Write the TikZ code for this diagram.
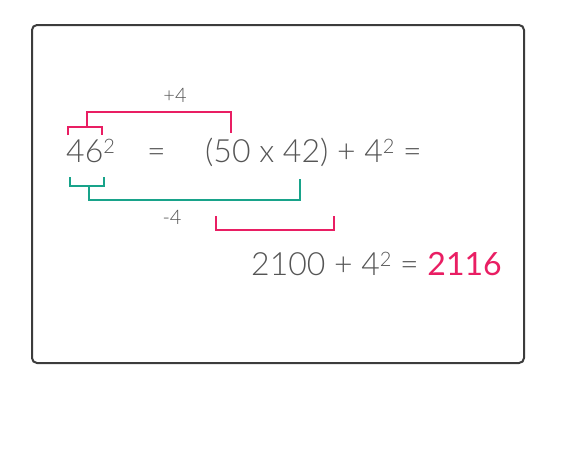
\documentclass[tikz,border=0pt]{standalone}
\usepackage{fontspec}
\setmainfont{Lato Light}
\newfontfamily\regfont{Lato}
\definecolor{pinkc}{HTML}{E91E63}
\definecolor{tealc}{HTML}{18A38A}
\definecolor{textc}{HTML}{555555}
\definecolor{framec}{HTML}{3C3C3C}
\newcommand{\sq}{{\fontsize{20}{20}\selectfont\raisebox{9pt}{2}}}
\begin{document}
\begin{tikzpicture}[x=1pt,y=-1pt,
  txt/.style={inner sep=0pt,anchor=base west,text=textc,font=\fontsize{32}{32}\selectfont},
  small/.style={inner sep=0pt,text=textc,font=\fontsize{20}{20}\selectfont},
  pinkline/.style={draw=pinkc,line width=2pt},
  tealline/.style={draw=tealc,line width=2pt}]
\useasboundingbox (0,0) rectangle (585,469);
\draw[framec,line width=2pt,rounded corners=5pt] (32,25) rectangle (524,363);
% texts
\node[txt] (n46) at (66,162) {46\sq};
\node[txt] (eq1) at (147,162) {=};
\node[txt] (rhs) at (205,162) {(50 x 42) + 4\sq{} =};
\node[txt] (l2) at (251,275) {2100 + 4\sq{} = {\regfont\color{pinkc}2116}};
\node[small] (p4) at (175,95) {+4};
\node[small] (m4) at (172,217) {-4};
% pink top bracket
\coordinate (a1) at (68,135); \coordinate (a2) at (68,127);
\coordinate (a3) at (102,127); \coordinate (a4) at (102,135);
\draw[pinkline] (a1) -- (a2) -- (a3) -- (a4);
\coordinate (b1) at (87,127); \coordinate (b2) at (87,112);
\coordinate (b3) at (231,112); \coordinate (b4) at (231,133);
\draw[pinkline] (b1) -- (b2) -- (b3) -- (b4);
% teal bracket
\coordinate (c1) at (70,177); \coordinate (c2) at (70,186);
\coordinate (c3) at (104,186); \coordinate (c4) at (104,177);
\draw[tealline] (c1) -- (c2) -- (c3) -- (c4);
\coordinate (d1) at (89,186); \coordinate (d2) at (89,200);
\coordinate (d3) at (300,200); \coordinate (d4) at (300,179);
\draw[tealline] (d1) -- (d2) -- (d3) -- (d4);
% pink lower bracket
\coordinate (e1) at (216,216); \coordinate (e2) at (216,230);
\coordinate (e3) at (334,230); \coordinate (e4) at (334,216);
\draw[pinkline] (e1) -- (e2) -- (e3) -- (e4);
\end{tikzpicture}
\end{document}
